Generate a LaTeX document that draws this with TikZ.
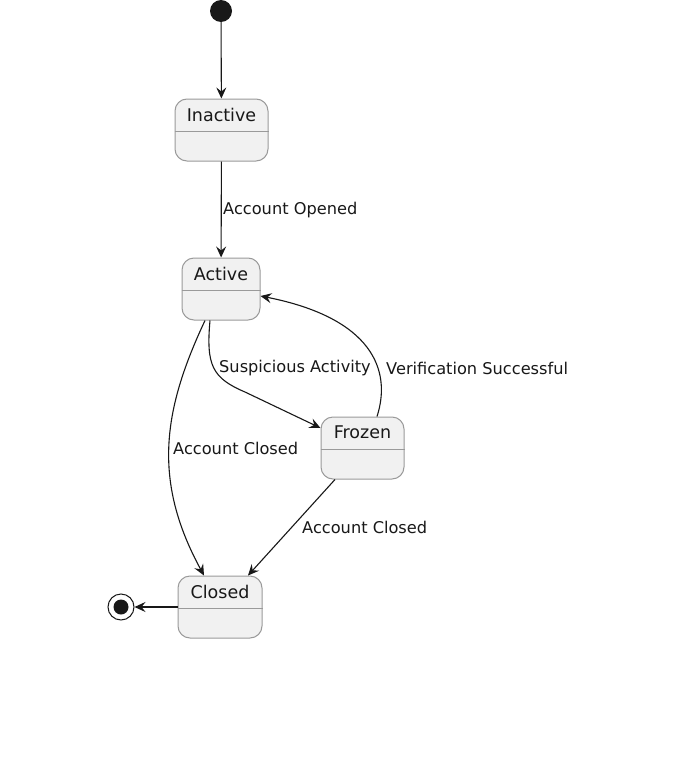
\documentclass[tikz,border=0pt]{standalone}
\usepackage{fontspec}
\setmainfont{DejaVu Sans}
\usetikzlibrary{arrows.meta}
\definecolor{lineC}{HTML}{181818}
\definecolor{boxC}{HTML}{F1F1F1}
\definecolor{bordC}{HTML}{9A9A9A}
\tikzset{
  stbox/.style={draw=bordC, fill=boxC, rounded corners=12pt, line width=1pt, inner sep=0pt, minimum height=62pt},
  sttitle/.style={font=\fontsize{17.5}{20}\selectfont, text=lineC, inner sep=0pt},
  sep/.style={draw=bordC, line width=1pt},
  trans/.style={draw=lineC, line width=1.1pt, -{Stealth[length=11pt,width=10pt,inset=4pt]}},
  lbl/.style={font=\fontsize{16.2}{19}\selectfont, text=lineC, inner sep=0pt, anchor=west}
}
\begin{document}
\begin{tikzpicture}[x=1pt,y=-1pt]
\useasboundingbox[fill=white] (0,0) rectangle (694,760);
% initial
\node[circle, fill=lineC, inner sep=0pt, minimum size=22pt] (start) at (221,11) {};
% states
\node[stbox, minimum width=93pt] (inactive) at (221.5,130) {};
\draw[sep] ([yshift=-1pt]inactive.west) -- ([yshift=-1pt]inactive.east);
\node[sttitle] (inactiveT) at ([yshift=-16pt]inactive.north) {Inactive};

\node[stbox, minimum width=78pt] (active) at (221,289) {};
\draw[sep] ([yshift=-1pt]active.west) -- ([yshift=-1pt]active.east);
\node[sttitle] (activeT) at ([yshift=-16pt]active.north) {Active};

\node[stbox, minimum width=83pt] (frozen) at (362.5,448) {};
\draw[sep] ([yshift=-1pt]frozen.west) -- ([yshift=-1pt]frozen.east);
\node[sttitle] (frozenT) at ([yshift=-16pt]frozen.north) {Frozen};

\node[stbox, minimum width=84pt] (closed) at (220,607) {};
\draw[sep] ([yshift=-1pt]closed.west) -- ([yshift=-1pt]closed.east);
\node[sttitle] (closedT) at ([yshift=-16pt]closed.north) {Closed};

% final
\node[circle, draw=lineC, fill=white, line width=1pt, inner sep=0pt, minimum size=26pt] (final) at (121,607) {};
\node[circle, fill=lineC, inner sep=0pt, minimum size=15pt] (finalIn) at (final.center) {};

% transitions
\draw[trans] (start) -- (inactive);
\draw[trans] (inactive) -- (active);
\draw[trans] ([xshift=-11pt]active.south) .. controls (206,365) and (212,378) .. (245,392) -- ([yshift=20pt]frozen.west);
\draw[trans] ([xshift=14.5pt]frozen.north) .. controls (392,370) and (372,318) .. ([yshift=-7pt]active.east);
\draw[trans] ([xshift=-16pt]active.south) .. controls (163,410) and (152,480) .. ([xshift=-16pt]closed.north);
\draw[trans] ([xshift=-27.5pt]frozen.south) -- ([xshift=28pt]closed.north);
\draw[trans] (closed.west) -- (final);

% labels
\node[lbl] (l1) at (223,210) {Account Opened};
\node[lbl] (l2) at (219,368) {Suspicious Activity};
\node[lbl] (l3) at (386,368) {Verification Successful};
\node[lbl] (l4) at (173,448) {Account Closed};
\node[lbl] (l5) at (302,527) {Account Closed};
\end{tikzpicture}
\end{document}
